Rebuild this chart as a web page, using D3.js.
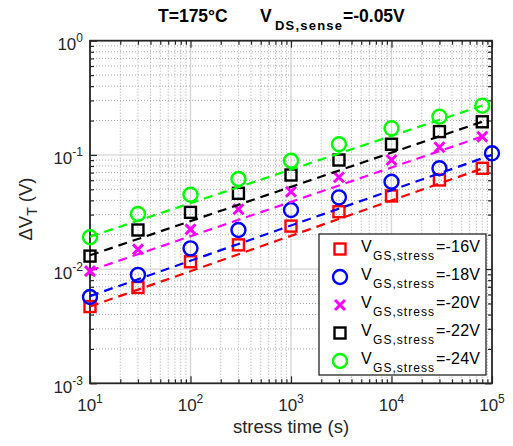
<!DOCTYPE html>
<html>
<head>
<meta charset="utf-8">
<script src="https://cdn.jsdelivr.net/npm/d3@7"></script>
<style>
body { margin: 0; background: #fff; }
svg { font-family: "Liberation Sans", Arial, Helvetica, sans-serif; }
</style>
</head>
<body>
<svg id="chart" width="513" height="446"></svg>
<script>
// stress times (s)
var times = [10, 30, 100, 300, 1000, 3000, 10000, 30000, 80000];
var timesBlue = [10, 30, 100, 300, 1000, 3000, 10000, 30000, 100000];
// measured threshold shift (V)
var dvt16 = [0.0047, 0.0069, 0.0116, 0.0163, 0.0238, 0.0318, 0.0437, 0.0603, 0.0763];
var dvt18 = [0.0057, 0.0089, 0.0152, 0.0220, 0.0329, 0.0425, 0.0582, 0.0763, 0.1033];
var dvt20 = [0.0096, 0.0149, 0.0223, 0.0334, 0.0476, 0.0637, 0.0902, 0.1166, 0.1443];
var dvt22 = [0.0130, 0.0220, 0.0314, 0.0461, 0.0667, 0.0902, 0.124, 0.160, 0.195];
var dvt24 = [0.0190, 0.0304, 0.0448, 0.0615, 0.0889, 0.124, 0.171, 0.216, 0.270];
// power-law fit lines: value at first and last stress time
var fit16 = [0.0047, 0.076];
var fit18 = [0.0058, 0.100];
var fit20 = [0.0097, 0.145];
var fit22 = [0.0132, 0.195];
var fit24 = [0.0192, 0.270];

var stressLabels = ["-16V", "-18V", "-20V", "-22V", "-24V"];
var seriesColors = ["#ff0000", "#0000ff", "#ff00ff", "#000000", "#00ff00"];
var seriesMarkers = ["square", "circle", "cross", "square", "circle"];
var xTickExp = ["1", "2", "3", "4", "5"];
var yTickExp = ["-3", "-2", "-1", "0"];

var series = [
  { t: times, v: dvt16, fit: fit16 },
  { t: timesBlue, v: dvt18, fit: fit18 },
  { t: times, v: dvt20, fit: fit20 },
  { t: times, v: dvt22, fit: fit22 },
  { t: times, v: dvt24, fit: fit24 }
];
series.forEach(function (s, i) {
  s.color = seriesColors[i];
  s.marker = seriesMarkers[i];
  s.label = stressLabels[i];
});

var plotL = 90, plotR = 492, plotT = 40.7, plotB = 383.3;
var axisColor = "#262626";

var x = d3.scaleLog().domain([10, 1e5]).range([plotL, plotR]);
var y = d3.scaleLog().domain([1e-3, 1]).range([plotB, plotT]);

var xMajor = xTickExp.map(function (e) { return Math.pow(10, +e); });
var yMajor = yTickExp.map(function (e) { return Math.pow(10, +e); });
var xMinor = [], yMinor = [];
for (var k = 1; k < 5; k++) for (var m = 2; m < 10; m++) xMinor.push(m * Math.pow(10, k));
for (var k2 = -3; k2 < 0; k2++) for (var m2 = 2; m2 < 10; m2++) yMinor.push(m2 * Math.pow(10, k2));

var svg = d3.select("#chart");

// grid
var grid = svg.append("g");
grid.selectAll(".xminor").data(xMinor).enter().append("line")
  .attr("x1", function (d) { return x(d); }).attr("x2", function (d) { return x(d); })
  .attr("y1", plotT).attr("y2", plotB)
  .attr("stroke", "#a8a8a8").attr("stroke-width", 1).attr("stroke-dasharray", "1,2");
grid.selectAll(".yminor").data(yMinor).enter().append("line")
  .attr("y1", function (d) { return y(d); }).attr("y2", function (d) { return y(d); })
  .attr("x1", plotL).attr("x2", plotR)
  .attr("stroke", "#a8a8a8").attr("stroke-width", 1).attr("stroke-dasharray", "1,2");
grid.selectAll(".xmajor").data(xMajor.slice(1, -1)).enter().append("line")
  .attr("x1", function (d) { return x(d); }).attr("x2", function (d) { return x(d); })
  .attr("y1", plotT).attr("y2", plotB)
  .attr("stroke", "#d6d6d6").attr("stroke-width", 1.4);
grid.selectAll(".ymajor").data(yMajor.slice(1, -1)).enter().append("line")
  .attr("y1", function (d) { return y(d); }).attr("y2", function (d) { return y(d); })
  .attr("x1", plotL).attr("x2", plotR)
  .attr("stroke", "#d6d6d6").attr("stroke-width", 1.4);

// axes (ticks inward on all four sides)
function addAxis(gen, tx, ty, vals, size) {
  var g = svg.append("g").attr("transform", "translate(" + tx + "," + ty + ")")
    .call(gen.tickValues(vals).tickSize(-size).tickFormat(""));
  g.select(".domain").remove();
  g.selectAll(".tick line").attr("stroke", axisColor).attr("stroke-width", 1.2);
}
addAxis(d3.axisBottom(x), 0, plotB, xMajor, 7);
addAxis(d3.axisBottom(x), 0, plotB, xMinor, 4);
addAxis(d3.axisTop(x), 0, plotT, xMajor, 7);
addAxis(d3.axisTop(x), 0, plotT, xMinor, 4);
addAxis(d3.axisLeft(y), plotL, 0, yMajor, 7);
addAxis(d3.axisLeft(y), plotL, 0, yMinor, 4);
addAxis(d3.axisRight(y), plotR, 0, yMajor, 7);
addAxis(d3.axisRight(y), plotR, 0, yMinor, 4);

svg.append("rect")
  .attr("x", plotL).attr("y", plotT)
  .attr("width", plotR - plotL).attr("height", plotB - plotT)
  .attr("fill", "none").attr("stroke", axisColor).attr("stroke-width", 1.8);

// tick labels
var xt = svg.append("g").selectAll("text").data(xTickExp).enter().append("text")
  .attr("x", function (d) { return x(Math.pow(10, +d)); })
  .attr("y", 411)
  .attr("text-anchor", "middle")
  .attr("font-size", 17)
  .attr("fill", axisColor);
xt.append("tspan").text("10");
xt.append("tspan").attr("dy", -8).attr("font-size", 12).text(function (d) { return d; });

var yt = svg.append("g").selectAll("text").data(yTickExp).enter().append("text")
  .attr("x", 83)
  .attr("y", function (d) { return y(Math.pow(10, +d)) + 9.5; })
  .attr("text-anchor", "end")
  .attr("font-size", 17)
  .attr("fill", axisColor);
yt.append("tspan").text("10");
yt.append("tspan").attr("dy", -8).attr("font-size", 12).text(function (d) { return d; });

// axis labels
svg.append("text")
  .attr("x", (plotL + plotR) / 2).attr("y", 433)
  .attr("text-anchor", "middle")
  .attr("font-size", 18.5)
  .attr("fill", axisColor)
  .text("stress time (s)");

var yl = svg.append("text")
  .attr("transform", "translate(32,209) rotate(-90)")
  .attr("text-anchor", "middle")
  .attr("font-size", 18.5)
  .attr("fill", axisColor);
yl.append("tspan").text("\u0394V");
yl.append("tspan").attr("dy", 5).attr("font-size", 14).text("T");
yl.append("tspan").attr("dy", -5).text("\u00a0(V)");

// title
var title = svg.append("text")
  .attr("y", 21.5)
  .attr("font-size", 17.5)
  .attr("font-weight", "bold")
  .attr("fill", "#000");
title.append("tspan").attr("x", 158).text("T=175\u00b0C");
title.append("tspan").attr("x", 260).text("V");
title.append("tspan").attr("x", 275).attr("y", 30).attr("font-size", 13)
  .attr("textLength", 67).text("DS,sense");
title.append("tspan").attr("x", 343).attr("y", 21.5).text("=-0.05V");

// marker drawing
function drawMarker(g, type, color, cx, cy) {
  if (type === "square") {
    g.append("rect")
      .attr("x", cx - 5.5).attr("y", cy - 5.5)
      .attr("width", 11).attr("height", 11)
      .attr("fill", "none").attr("stroke", color).attr("stroke-width", 2.4);
  } else if (type === "circle") {
    g.append("circle")
      .attr("cx", cx).attr("cy", cy).attr("r", 7)
      .attr("fill", "none").attr("stroke", color).attr("stroke-width", 2.4);
  } else {
    var h = 5;
    g.append("path")
      .attr("d", "M" + (cx - h) + "," + (cy - h) + "L" + (cx + h) + "," + (cy + h) +
        "M" + (cx - h) + "," + (cy + h) + "L" + (cx + h) + "," + (cy - h))
      .attr("stroke", color).attr("stroke-width", 3).attr("fill", "none");
  }
}

// markers
var marks = svg.append("g");
series.forEach(function (s) {
  s.v.forEach(function (v, j) {
    drawMarker(marks, s.marker, s.color, x(s.t[j]), y(v));
  });
});

// dashed fit lines
var line = d3.line()
  .x(function (d) { return x(d[0]); })
  .y(function (d) { return y(d[1]); });
svg.append("g").selectAll("path").data(series).enter().append("path")
  .attr("d", function (s) {
    return line([[s.t[0], s.fit[0]], [s.t[s.t.length - 1], s.fit[1]]]);
  })
  .attr("fill", "none")
  .attr("stroke", function (s) { return s.color; })
  .attr("stroke-width", 2.2)
  .attr("stroke-dasharray", "9,6");

// legend
var lg = svg.append("g");
lg.append("rect")
  .attr("x", 319).attr("y", 234).attr("width", 167).attr("height", 141)
  .attr("fill", "#fff").attr("stroke", axisColor).attr("stroke-width", 1.3);
series.forEach(function (s, i) {
  var cy = 249 + i * 28;
  drawMarker(lg, s.marker, s.color, 340, cy);
  var t = lg.append("text").attr("font-size", 16).attr("fill", "#000");
  t.append("tspan").attr("x", 361).attr("y", cy + 3).text("V");
  t.append("tspan").attr("x", 373).attr("y", cy + 10.5).attr("font-size", 12)
    .attr("textLength", 61).text("GS,stress");
  t.append("tspan").attr("x", 436).attr("y", cy + 3).attr("textLength", 44).text("=" + s.label);
});
</script>
</body>
</html>
